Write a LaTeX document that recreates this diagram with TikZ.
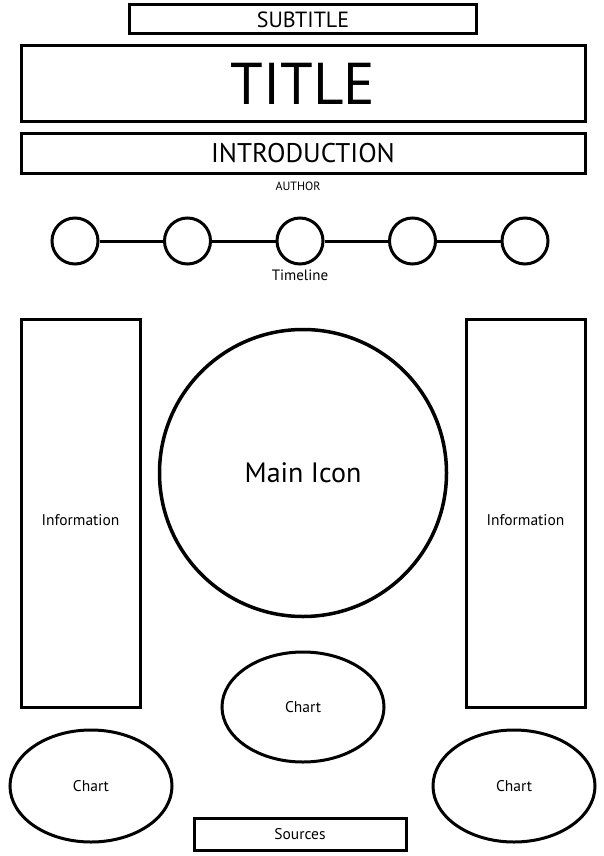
\documentclass[tikz,border=0pt]{standalone}
\usepackage{fontspec}
\setmainfont{PT Sans}
\usepackage{tikz}
\usetikzlibrary{
  positioning,
  shapes.geometric
}
\tikzset{
  layoutBox/.style={
    rectangle,
    draw=black,
    line width=3pt,
    inner sep=0pt,
    align=center
  },
  infoBox/.style={
    layoutBox,
    minimum width=119pt,
    minimum height=388pt,
    font=\fontsize{15.5}{17}\selectfont
  },
  tlDot/.style={
    circle,
    draw=black,
    line width=3pt,
    minimum size=46pt,
    inner sep=0pt
  },
  chartOval/.style={
    ellipse,
    draw=black,
    line width=3pt,
    minimum width=162pt,
    minimum height=110pt,
    inner sep=0pt,
    font=\fontsize{15.5}{17}\selectfont
  },
  tlLine/.style={
    line width=3pt,
    draw=black
  },
  smallText/.style={
    font=\fontsize{15}{17}\selectfont,
    inner sep=0pt
  }
}

\begin{document}
\begin{tikzpicture}[x=1pt, y=1pt, node distance=63.5pt]
  \useasboundingbox (0,0) rectangle (604,-856);

  % header
  \node[layoutBox, minimum width=347pt, minimum height=29pt,
        font=\fontsize{22}{24}\selectfont] (subtitle) at (303,-19.5) {SUBTITLE};
  \node[layoutBox, minimum width=564pt, minimum height=76pt,
        font=\fontsize{59}{61}\selectfont] (title) at (303,-84) {TITLE};
  \node[layoutBox, minimum width=564pt, minimum height=40pt,
        font=\fontsize{27}{29}\selectfont] (intro) at (303,-153) {INTRODUCTION};
  \node[font=\fontsize{12}{14}\selectfont, inner sep=0pt] (author) at (298,-186) {AUTHOR};

  % timeline
  \node[tlDot] (t1) at (75,-241) {};
  \node[tlDot, right=of t1] (t2) {};
  \node[tlDot, right=of t2] (t3) {};
  \node[tlDot, right=of t3] (t4) {};
  \node[tlDot, right=of t4] (t5) {};
  \node[smallText, below=4pt of t3] (timeline) {Timeline};

  \draw[tlLine] (t1) -- (t2);
  \draw[tlLine] (t2) -- (t3);
  \draw[tlLine] (t3) -- (t4);
  \draw[tlLine] (t4) -- (t5);

  % body
  \node[infoBox] (infoL) at (80.5,-513) {\raisebox{-12pt}[0pt][0pt]{Information}};
  \node[infoBox] (infoR) at (525.5,-513) {\raisebox{-12pt}[0pt][0pt]{Information}};
  \node[circle, draw=black, line width=3.5pt, minimum size=287pt, inner sep=0pt,
        font=\fontsize{28}{30}\selectfont] (icon) at (303,-473) {Main Icon};

  % charts and sources
  \node[chartOval] (chartM) at (303,-707) {Chart};
  \node[chartOval, minimum height=112pt] (chartL) at (91,-786) {Chart};
  \node[chartOval, minimum height=112pt] (chartR) at (514,-786) {Chart};
  \node[layoutBox, minimum width=212pt, minimum height=32pt,
        font=\fontsize{15.5}{17}\selectfont] (sources) at (300,-834) {Sources};
\end{tikzpicture}
\end{document}
